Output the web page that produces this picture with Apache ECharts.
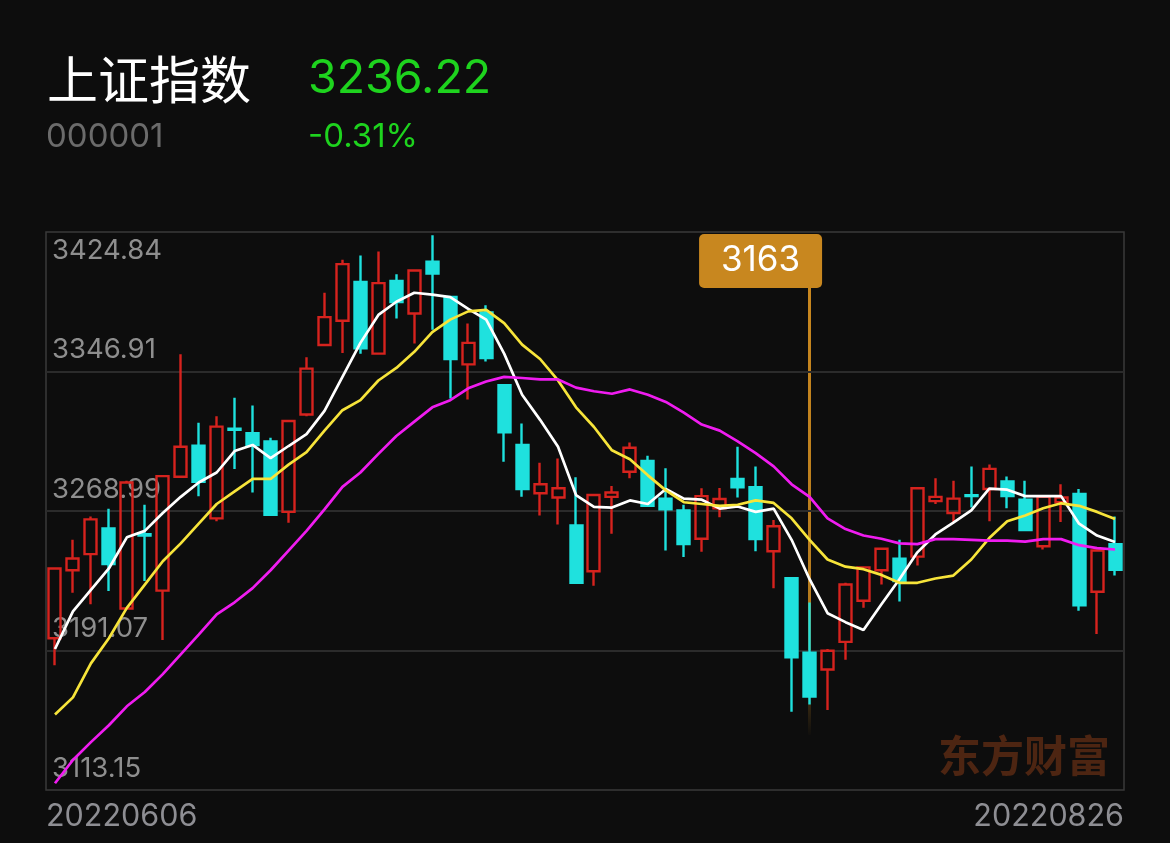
<!DOCTYPE html>
<html>
<head>
<meta charset="utf-8">
<script src="https://cdn.jsdelivr.net/npm/echarts@6/dist/echarts.min.js"></script>
<style>
html,body{margin:0;padding:0;background:#0d0d0d;}
#chart{width:1170px;height:843px;}
</style>
</head>
<body>
<div id="chart"></div>
<script>
// ---- data ----
const dates = ['20220606','20220607','20220608','20220609','20220610','20220613','20220614','20220615','20220616','20220617',
 '20220620','20220621','20220622','20220623','20220624','20220627','20220628','20220629','20220630','20220701',
 '20220704','20220705','20220706','20220707','20220708','20220711','20220712','20220713','20220714','20220715',
 '20220718','20220719','20220720','20220721','20220722','20220725','20220726','20220727','20220728','20220729',
 '20220801','20220802','20220803','20220804','20220805','20220808','20220809','20220810','20220811','20220812',
 '20220815','20220816','20220817','20220818','20220819','20220822','20220823','20220824','20220825','20220826'];

const openPrices = [3197.9,3235.9,3244.9,3259.3,3214.5,3256.0,3224.5,3288.1,3305.5,3264.9,
 3315.0,3312.5,3307.9,3268.5,3322.9,3361.7,3375.3,3396.9,3356.9,3397.5,
 3379.3,3408.3,3388.5,3350.9,3379.9,3339.3,3305.9,3278.9,3276.5,3260.9,
 3235.3,3276.9,3290.9,3296.9,3275.9,3269.3,3253.5,3270.5,3286.9,3282.3,
 3246.5,3231.5,3189.9,3180.5,3195.9,3218.9,3235.9,3242.3,3243.5,3274.5,
 3267.9,3277.8,3281.3,3285.5,3275.3,3249.3,3273.9,3278.5,3223.9,3250.5];
const closePrices = [3236.9,3242.5,3264.3,3239.3,3284.9,3255.3,3288.5,3304.9,3285.3,3316.1,
 3314.3,3305.9,3266.9,3319.3,3348.5,3377.3,3406.9,3359.9,3396.3,3385.7,
 3403.3,3401.7,3353.9,3362.9,3354.5,3312.9,3281.3,3283.9,3281.7,3228.9,
 3277.9,3279.3,3304.3,3271.9,3269.9,3250.5,3277.3,3275.7,3282.3,3253.3,
 3260.5,3187.3,3165.3,3190.9,3227.9,3237.5,3247.9,3229.9,3281.7,3276.9,
 3275.9,3277.3,3292.5,3277.3,3258.3,3276.9,3276.5,3216.3,3246.9,3236.2];
const lowPrices = [3182.9,3223.3,3216.9,3224.3,3214.5,3229.9,3196.9,3288.1,3277.3,3263.3,
 3292.5,3279.3,3266.5,3262.5,3321.9,3361.7,3357.3,3356.9,3356.9,3376.5,
 3362.5,3370.3,3331.9,3331.3,3352.5,3296.5,3276.9,3266.5,3261.5,3228.9,
 3227.3,3256.3,3287.3,3271.9,3246.9,3243.3,3246.3,3265.5,3276.5,3246.5,
 3225.9,3156.9,3160.9,3157.9,3185.9,3214.9,3227.9,3218.5,3238.5,3272.9,
 3262.9,3270.9,3263.3,3270.5,3258.3,3247.5,3262.9,3213.3,3200.3,3232.9];
const highPrices = [3236.9,3252.9,3265.9,3270.3,3285.9,3272.5,3288.5,3356.5,3318.3,3321.9,
 3332.3,3327.9,3309.9,3319.3,3354.9,3390.9,3409.3,3411.7,3413.9,3401.3,
 3403.3,3423.0,3388.5,3373.7,3383.9,3339.3,3317.9,3295.9,3298.3,3287.9,
 3277.9,3282.9,3307.3,3299.9,3292.9,3272.5,3281.7,3281.9,3304.9,3293.9,
 3263.9,3231.5,3217.9,3191.9,3228.9,3237.9,3247.9,3252.9,3281.7,3287.3,
 3285.9,3293.9,3294.9,3288.3,3285.9,3276.9,3283.9,3281.3,3246.9,3265.9];

const ma5 = [3191.9,3212.9,3224.9,3236.9,3254.3,3257.9,3267.9,3276.9,3284.9,3290.5,
 3302.5,3305.9,3298.5,3305.3,3311.9,3324.9,3343.9,3362.9,3378.5,3385.9,
 3390.9,3389.9,3388.5,3381.9,3375.9,3356.9,3333.9,3319.9,3304.9,3277.9,
 3271.3,3270.9,3274.9,3272.9,3281.3,3275.9,3275.3,3270.3,3271.5,3268.5,
 3270.3,3252.9,3230.9,3211.9,3206.9,3202.5,3216.9,3230.9,3245.9,3255.9,
 3262.5,3269.3,3281.5,3280.9,3277.3,3277.3,3277.3,3261.9,3255.3,3251.7];
const ma10 = [3155.3,3164.9,3183.9,3197.9,3214.9,3227.9,3240.9,3250.9,3261.9,3272.9,
 3280.0,3286.9,3286.9,3294.9,3301.9,3313.9,3325.3,3330.9,3341.9,3348.9,
 3357.9,3368.9,3375.9,3380.5,3381.3,3373.9,3361.9,3353.9,3341.9,3326.9,
 3315.9,3302.9,3297.9,3288.9,3280.5,3273.9,3272.9,3271.9,3272.5,3274.9,
 3273.5,3264.9,3252.9,3241.9,3237.9,3236.5,3233.3,3228.9,3228.9,3231.3,
 3232.9,3241.9,3253.9,3263.3,3266.5,3270.5,3273.3,3271.9,3268.5,3264.5];
const ma20 = [3116.9,3129.9,3139.9,3149.3,3159.9,3167.9,3177.9,3188.9,3199.9,3211.3,
 3218.0,3225.9,3235.9,3246.9,3257.9,3269.9,3282.5,3290.5,3300.9,3310.9,
 3318.9,3326.9,3330.9,3337.5,3341.3,3343.9,3343.3,3342.5,3342.5,3337.9,
 3335.9,3334.5,3336.9,3333.9,3329.9,3323.9,3317.3,3313.9,3307.9,3301.3,
 3293.9,3283.9,3276.9,3264.9,3258.9,3255.3,3253.5,3250.9,3250.5,3253.3,
 3253.3,3252.9,3252.5,3252.5,3251.9,3253.3,3253.3,3249.9,3248.3,3247.5];

const yTickValues = [3113.15, 3191.07, 3268.99, 3346.91, 3424.84];
const yTickLabels = ['3113.15', '3191.07', '3268.99', '3346.91', '3424.84'];

const stockName = '上证指数';
const stockCode = '000001';
const lastPrice = '3236.22';
const changePct = '-0.31%';
const calloutDate = '20220803';
const calloutText = '3163';
const watermark = '东方财富';

// ---- build ----
const candles = dates.map((d, i) => [openPrices[i], closePrices[i], lowPrices[i], highPrices[i]]);

const FONT = 'Inter, "Noto Sans CJK SC", sans-serif';
const RED = '#d6231e';
const CYAN = '#1fe1de';
const GREEN = '#1ed31e';
const ORANGE = '#c8871f';

const chart = echarts.init(document.getElementById('chart'), null, {renderer: 'canvas'});

const lastIdx = yTickValues.length - 1;
const gridMarks = yTickValues.map((v, i) => {
  const edge = (i === 0 || i === lastIdx);
  return {
    yAxis: v,
    lineStyle: edge ? {color: 'rgba(0,0,0,0)', width: 0} : {color: '#2b2b2b', width: 2, type: 'solid'},
    label: {
      show: true,
      position: i === lastIdx ? 'insideStartBottom' : 'insideStartTop',
      distance: i === lastIdx ? [6, 5] : [6, 8],
      formatter: yTickLabels[i]
    }
  };
});

const option = {
  backgroundColor: '#0d0d0d',
  animation: false,
  textStyle: {fontFamily: FONT},
  grid: {
    left: 46, right: 46, top: 232, bottom: 53,
    show: true, borderColor: '#3a3a3a', borderWidth: 1.5,
    backgroundColor: 'transparent',
    outerBoundsMode: 'none'
  },
  xAxis: [
    {
      type: 'category', data: dates, boundaryGap: true,
      axisLine: {show: false}, axisTick: {show: false},
      axisLabel: {show: false}, splitLine: {show: false}
    },
    {
      type: 'category', data: dates, boundaryGap: false, position: 'bottom',
      axisLine: {show: false}, axisTick: {show: false}, splitLine: {show: false},
      axisLabel: {
        show: true,
        interval: (idx) => idx === 0 || idx === dates.length - 1,
        color: '#8e8e93', fontSize: 30.5, fontFamily: FONT, margin: 12,
        alignMinLabel: 'left', alignMaxLabel: 'right', hideOverlap: false
      }
    }
  ],
  yAxis: {
    type: 'value', scale: true,
    min: yTickValues[0], max: yTickValues[lastIdx],
    axisLine: {show: false}, axisTick: {show: false},
    axisLabel: {show: false}, splitLine: {show: false}
  },
  graphic: [
    {type: 'text', x: 47, y: 80, silent: true,
      style: {text: stockName, fill: '#ffffff', fontSize: 51, fontFamily: '"Noto Sans CJK SC"', verticalAlign: 'middle', align: 'left'}},
    {type: 'text', x: 308, y: 79, silent: true,
      style: {text: lastPrice, fill: GREEN, fontSize: 46.5, fontFamily: FONT, verticalAlign: 'middle', align: 'left'}},
    {type: 'text', x: 46, y: 137, silent: true,
      style: {text: stockCode, fill: '#6b6b6b', fontSize: 33, fontFamily: FONT, verticalAlign: 'middle', align: 'left'}},
    {type: 'text', x: 308, y: 137, silent: true,
      style: {text: changePct, fill: GREEN, fontSize: 33, fontFamily: FONT, verticalAlign: 'middle', align: 'left'}},
    {type: 'text', x: 1110, y: 756, z: -1, silent: true,
      style: {text: watermark, fill: '#4d2512', fontSize: 43, fontWeight: 'bold', fontFamily: '"Noto Sans CJK SC"', verticalAlign: 'middle', align: 'right'}}
  ],
  series: [
    {
      name: 'K', type: 'candlestick', data: candles,
      xAxisIndex: 0, yAxisIndex: 0,
      barWidth: 12.5,
      itemStyle: {
        color: 'rgba(0,0,0,0)', color0: CYAN,
        borderColor: RED, borderColor0: CYAN,
        borderWidth: 2.4
      },
      markLine: {
        silent: true, animation: false, z: 1,
        symbol: ['none', 'none'],
        label: {show: false},
        lineStyle: {
          width: 3, type: 'solid',
          color: new echarts.graphic.LinearGradient(0, 0, 0, 1, [
            {offset: 0, color: 'rgba(200,135,31,1)'},
            {offset: 0.7, color: 'rgba(200,135,31,0.9)'},
            {offset: 1, color: 'rgba(200,135,31,0)'}
          ])
        },
        data: [[{coord: [calloutDate, 3393.6]}, {coord: [calloutDate, 3143.9]}]]
      },
      markPoint: {
        silent: true, animation: false,
        symbol: 'path://M5,0H118A5,5,0,0,1,123,5V49A5,5,0,0,1,118,54H5A5,5,0,0,1,0,49V5A5,5,0,0,1,5,0Z',
        symbolKeepAspect: false,
        symbolSize: [123, 54],
        symbolOffset: [-49, -27],
        itemStyle: {color: ORANGE},
        label: {show: true, position: 'inside', formatter: calloutText, color: '#ffffff', fontSize: 35, fontFamily: FONT},
        data: [{coord: [calloutDate, 3393.6]}]
      }
    },
    {
      name: 'MA5', type: 'line', data: ma5, showSymbol: false, symbol: 'none', silent: true,
      lineStyle: {color: '#ffffff', width: 2.7}, z: 3
    },
    {
      name: 'MA10', type: 'line', data: ma10, showSymbol: false, symbol: 'none', silent: true,
      lineStyle: {color: '#f7e43a', width: 2.7}, z: 3
    },
    {
      name: 'MA20', type: 'line', data: ma20, showSymbol: false, symbol: 'none', silent: true,
      lineStyle: {color: '#f01cf0', width: 2.7}, z: 3,
      markLine: {
        silent: true, animation: false, z: 1,
        symbol: ['none', 'none'],
        label: {color: '#8e8e8e', fontSize: 27.5, fontFamily: FONT},
        data: gridMarks
      }
    }
  ]
};

chart.setOption(option);
</script>
</body>
</html>
